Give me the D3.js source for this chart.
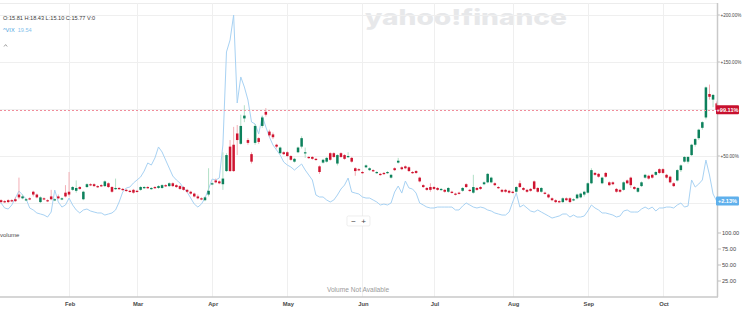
<!DOCTYPE html>
<html>
<head>
<meta charset="utf-8">
<script src="https://cdn.jsdelivr.net/npm/d3@7"></script>
<style>
html, body { margin: 0; padding: 0; background: #fff; }
svg { display: block; font-family: "Liberation Sans", Arial, sans-serif; }
</style>
</head>
<body>
<div id="chart"></div>
<script>
// percent change since first session, one entry per trading day (Jan 2 .. Oct 22)
var open = [1,3,2,3,3,4,9,5,3,5, 12,9,1,5,3,7,3,7,4,11, 12,14,13,17,4,17,20,20,18,19, 18,21,17,15,16,15,14,13,14,13,
  14,16,17,15,17,16,16,19,18,21, 19,18,17,14,12,10,7,5,3,9, 20,24,23,20,34,60,62,74,63,90, 67,52,64,69,82,97,76,73,62,53,
  54,54,50,44,54,60,53,49,49,47, 39,43,44,53,53,42,53,51,49,48, 37,36,33,38,35,35,32,31,32,32, 27,37,43,38,39,38,33,34,27,19,
  16,17,17,16,14,14,12,12,10,11, 13,20,14,11,16,17,20,22,22,21, 17,14,14,13,12,12,21,16,14,15, 23,16,12,11,9,5,3,2,1,5,
  5,3,5,6,9,11,21,32,31,21, 32,22,22,15,14,14,24,27,17,12, 18,27,29,30,30,36,36,30,28,21, 24,35,44,44,51,62,69,80,91,116, 110,106];
var close = [2,1,1,1,2,2,6,7,4,4, 9,6,6,4,2,4,4,5,5,7, 9,17,16,15,12,20,19,18,17,18, 23,17,12,16,15,14,13,12,11,12,
  17,17,16,16,16,18,19,18,21,18, 17,15,14,12,10,7,5,4,6,13, 21,22,21,26,51,34,34,67,82,93, 64,44,82,65,91,94,72,70,60,59,
  52,50,46,47,59,69,54,48,47,46, 33,46,48,46,49,51,49,47,50,44, 34,35,32,40,37,34,33,30,31,33, 30,35,45,36,37,34,32,32,23,17,
  14,14,15,14,15,12,16,11,9,10, 16,17,13,17,14,15,22,31,27,19, 16,12,12,11,11,17,17,14,12,13, 15,12,16,10,6,3,1,1,5,3,
  1,4,9,10,12,21,35,30,28,27, 28,19,20,12,12,22,21,19,15,16, 22,30,26,27,33,32,32,27,22,18, 35,40,49,49,62,68,78,86,123,113, 115,99.11];
var high = [3,4,3,4,4,6,27,9,5,6, 13,10,7,6,4,14,5,9,6,19, 33,18,24,18,13,21,21,21,19,20, 24,22,18,26,17,16,15,14,15,14,
  18,18,18,17,18,19,20,20,22,22, 20,19,18,15,13,11,9,6,7,37, 22,26,24,54,53,67,81,83,94,104, 69,54,84,70,93,101,78,75,63,60,
  55,55,51,48,60,71,59,50,50,48, 40,47,49,54,54,52,54,52,54,49, 38,37,34,41,38,36,34,32,33,34, 31,38,48,39,40,39,34,35,28,20,
  17,21,18,17,16,15,17,13,11,12, 17,21,15,30,17,18,23,32,28,22, 18,15,15,14,13,18,24,17,15,16, 24,17,17,12,10,6,4,3,6,6,
  6,5,10,11,13,22,37,33,32,28, 33,23,23,16,15,23,25,28,18,17, 23,31,30,31,34,37,37,31,29,22, 36,41,50,50,63,69,79,87,124,126, 116,108];
var low = [0,0,0,0,1,1,4,4,2,3, 7,5,0,3,1,3,2,4,3,6, 7,13,11,14,3,16,18,17,16,17, 17,16,11,14,14,13,12,11,10,11,
  13,15,15,14,15,15,15,17,17,17, 16,14,13,11,9,6,4,3,2,7, 19,21,20,14,33,33,33,51,62,86, 62,42,62,63,80,92,70,68,58,52,
  51,49,45,43,53,58,48,47,46,45, 31,42,43,45,48,40,48,46,48,43, 29,34,31,37,34,33,31,29,30,31, 26,34,42,35,36,33,31,31,22,16,
  13,12,14,13,13,11,11,10,8,9, 12,16,12,10,13,14,19,21,21,18, 15,11,11,10,10,11,16,13,11,12, 14,11,11,9,5,2,0,0,0,2,
  0,2,4,5,7,10,20,29,27,20, 27,18,19,11,11,13,20,16,14,11, 17,26,25,26,29,31,31,26,21,17, 23,33,43,42,50,60,67,78,89,110, 102,97];
// ^VIX comparison, percent change
var vix = [1.1,0,-5.3,-6.4,-2.1,5.3,12.8,8.5,4.3,-5.3, -7.4,-10.6,-11.7,-12.8,-14.9,-9.6,13.8,1.1,-4.3,-2.1,
  5.3,-2.1,-7.4,-10.6,-7.4,-6.4,-8.5,-9.6,-10.6,-10.6, -12.8,-11.7,-10.6,-7.4,1.1,11.7,16,17,21.3,24.5,
  27.7,34,42.6,40.4,47.9,59.6,54.3,45.7,37.2,28.7, 24.5,21.3,16,11.7,5.3,-1.1,-4.3,-1.1,5.3,14.9,
  25.5,24.5,26.6,61.7,160.7,173.4,200,106.4,134.1,123.4, 109.6,86.2,84.1,73.4,92.6,80.9,70.2,61.7,56.4,51.1,
  43.6,40.4,38.3,35.1,38.3,41.5,35.1,29.8,24.5,8.5, 6.4,6.4,3.2,1.1,3.2,8.5,14.9,19.1,26.6,11.7,
  10.6,9.6,6.4,5.3,5.3,3.2,1.1,-2.1,-1.1,-2.1, 0,11.7,18.1,10.6,23.4,16,14.9,10.6,0,-2.1,
  -4.3,-5.3,-5.3,-4.3,-4.3,-4.3,-4.3,-4.3,-7.4,-7.4, -3.2,0,-2.1,-4.3,-5.3,-4.3,-5.3,-7.4,-8.5,-10.6,
  -11.7,-12.8,-12.8,-9.6,1.1,10.6,-4.3,-2.1,-5.3,-8.5, -9.6,-7.4,-9.6,-11.7,-13.8,-16,-14.9,-13.8,-11.7,-11.7,
  -14.9,-12.8,-14.9,-14.9,-13.8,-8.5,-2.1,-5.3,-7.4,-10.6, -10.6,-11.7,-12.8,-14.9,-13.8,-8.5,-7.4,-9.6,-9.6,-9.6,
  -6.4,-4.3,-6.4,-4.3,-8.5,-5.3,-5.3,-4.3,-4.3,-5.3, -2.1,0,-4.3,-3.2,24.5,17,20.2,24.5,45.7,29.8, 9.6,2.13];

var months = ["Feb","Mar","Apr","May","Jun","Jul","Aug","Sep","Oct"];
var monthStart = [20,39,60,81,102,122,144,165,186];
var pctTicks = [0,50,100,150,200];
var volTicks = [25,50,75,100];
var headerOHLC = "O:15.81 H:18.43 L:15.10 C:15.77 V:0";
var vixName = "^VIX", vixLast = "19.54";

var W = 742, H = 309, plotRight = 717, plotTop = 3, priceBottom = 222, axisY = 297;
var green = "#0d815c", red = "#cf1430", greenWick = "#a9dcc1", redWick = "#f2a6ae";

var x = d3.scaleLinear().domain([0.7, 201.1]).range([0, plotRight]);
var y = d3.scaleLinear().domain([-20.2, 212.8]).range([priceBottom, plotTop]);
var yVol = d3.scaleLinear().domain([0, 100]).range([axisY, 233]);

var svg = d3.select("#chart").append("svg").attr("width", W).attr("height", H);

svg.append("defs").append("clipPath").attr("id", "plotClip")
  .append("rect").attr("x", 0).attr("y", plotTop).attr("width", plotRight).attr("height", priceBottom - plotTop);

//Watermark
svg.append("text")
  .attr("x", 466).attr("y", 25)
  .attr("text-anchor", "middle")
  .attr("font-family", "Inter, 'Open Sans', sans-serif")
  .attr("font-size", "21px").attr("font-weight", 800)
  .attr("textLength", 202).attr("lengthAdjust", "spacingAndGlyphs")
  .attr("fill", "#e7e8ea")
  .text("yahoo!finance");

//Grid
svg.append("line").attr("x1", 0).attr("x2", plotRight).attr("y1", plotTop + 0.5).attr("y2", plotTop + 0.5)
  .style("stroke", "#ececec");
svg.selectAll(".hgrid").data(pctTicks).enter().append("line")
  .attr("class", "hgrid")
  .attr("x1", 0).attr("x2", plotRight)
  .attr("y1", function(d){ return Math.round(y(d)) + 0.5; })
  .attr("y2", function(d){ return Math.round(y(d)) + 0.5; })
  .style("stroke", "#efefef");
svg.selectAll(".vgrid").data(monthStart).enter().append("line")
  .attr("class", "vgrid")
  .attr("x1", function(d){ return Math.round(x(d)) + 0.5; })
  .attr("x2", function(d){ return Math.round(x(d)) + 0.5; })
  .attr("y1", plotTop).attr("y2", axisY)
  .style("stroke", "#efefef");

var plot = svg.append("g").attr("clip-path", "url(#plotClip)");

//VIX comparison line
plot.append("path")
  .datum(vix)
  .attr("d", d3.line().x(function(d, i){ return x(i); }).y(function(d){ return y(d); }))
  .style("fill", "none")
  .style("stroke", "#a8d2f3")
  .style("stroke-width", "1px");

//Candles
var idx = d3.range(close.length);
plot.selectAll(".wick").data(idx).enter().append("line")
  .attr("class", "wick")
  .attr("x1", function(i){ return x(i); }).attr("x2", function(i){ return x(i); })
  .attr("y1", function(i){ return y(high[i]); }).attr("y2", function(i){ return y(low[i]); })
  .style("stroke", function(i){ return close[i] >= open[i] ? greenWick : redWick; })
  .style("stroke-width", "0.9px");
plot.selectAll(".body").data(idx).enter().append("rect")
  .attr("class", "body")
  .attr("x", function(i){ return x(i) - 1.25; })
  .attr("width", 2.5)
  .attr("y", function(i){ return y(Math.max(open[i], close[i])); })
  .attr("height", function(i){ return Math.max(1.2, Math.abs(y(open[i]) - y(close[i]))); })
  .style("fill", function(i){ return close[i] >= open[i] ? green : red; });

var lastClose = close[close.length - 1], lastVix = vix[vix.length - 1];

//Last price dashed line
svg.append("line")
  .attr("x1", 0).attr("x2", plotRight)
  .attr("y1", Math.round(y(lastClose)) + 0.5).attr("y2", Math.round(y(lastClose)) + 0.5)
  .style("stroke", "#f08d9b").style("stroke-dasharray", "2,2");

//Axis lines
svg.append("line").attr("x1", 0).attr("x2", plotRight + 1).attr("y1", axisY).attr("y2", axisY)
  .style("stroke", "#c9c9c9").style("stroke-width", "1.5px");
svg.append("line").attr("x1", plotRight + 0.5).attr("x2", plotRight + 0.5).attr("y1", plotTop).attr("y2", axisY)
  .style("stroke", "#c9c9c9").style("stroke-width", "1.5px");

//Right axis, percent
var pctFmt = d3.format("+.2f");
var shown = pctTicks.filter(function(t){
  return Math.abs(y(t) - y(lastClose)) > 8 && Math.abs(y(t) - y(lastVix)) > 8;
});
var pAxis = svg.selectAll(".pct").data(shown).enter().append("g").attr("class", "pct");
pAxis.append("line")
  .attr("x1", plotRight + 1).attr("x2", plotRight + 3)
  .attr("y1", function(d){ return y(d); }).attr("y2", function(d){ return y(d); })
  .style("stroke", "#999").style("stroke-width", "0.6px");
pAxis.append("text")
  .attr("x", plotRight + 3.5).attr("y", function(d){ return y(d) + 1.7; })
  .attr("font-size", "4.6px").attr("fill", "#464646")
  .text(function(d){ return pctFmt(d) + "%"; });

//Right axis, volume
var vAxis = svg.selectAll(".vol").data(volTicks).enter().append("g").attr("class", "vol");
vAxis.append("line")
  .attr("x1", plotRight + 1).attr("x2", plotRight + 4)
  .attr("y1", function(d){ return yVol(d); }).attr("y2", function(d){ return yVol(d); })
  .style("stroke", "#999").style("stroke-width", "0.6px");
vAxis.append("text")
  .attr("x", plotRight + 5).attr("y", function(d){ return yVol(d) + 2; })
  .attr("font-size", "5.6px").attr("fill", "#464646")
  .text(function(d){ return d3.format(".2f")(d); });

//Price tags
function tag(val, fill, txt){
  var cy = y(val);
  svg.append("rect").attr("x", plotRight - 1).attr("y", cy - 4.5)
    .attr("width", 23).attr("height", 9).attr("rx", 1)
    .style("fill", fill);
  svg.append("text").attr("x", plotRight + 10.5).attr("y", cy + 2)
    .attr("text-anchor", "middle")
    .attr("font-size", "5.6px").attr("font-weight", "bold").attr("fill", "#fff")
    .text(txt);
}
tag(lastClose, "#c8102e", pctFmt(lastClose) + "%");
tag(lastVix, "#5fb0ec", pctFmt(lastVix) + "%");

//Month labels
svg.selectAll(".month").data(months).enter().append("text")
  .attr("class", "month")
  .attr("x", function(d, i){ return x(monthStart[i]) + 1; })
  .attr("y", 305.5)
  .attr("text-anchor", "middle")
  .attr("font-size", "5.8px").attr("font-weight", "bold").attr("fill", "#4a4a4a")
  .text(function(d){ return d; });

//Header and panel texts
svg.append("text").attr("x", 3).attr("y", 19.5)
  .attr("font-size", "5.6px").attr("fill", "#3b3b3b").text(headerOHLC);
var vt = svg.append("text").attr("x", 3).attr("y", 31.5).attr("font-size", "5.6px");
vt.append("tspan").attr("fill", "#4a9fe0").text(vixName);
vt.append("tspan").attr("fill", "#86bfec").attr("dx", 3).text(vixLast);
svg.append("path").attr("d", "M4,46.5 L5.6,44.6 L7.2,46.5")
  .style("fill", "none").style("stroke", "#777").style("stroke-width", "0.7px");

svg.append("text").attr("x", 0).attr("y", 237)
  .attr("font-size", "6px").attr("fill", "#4a4a4a").text("volume");
svg.append("text").attr("x", 358).attr("y", 292)
  .attr("text-anchor", "middle")
  .attr("font-size", "6.6px").attr("fill", "#9a9a9a").text("Volume Not Available");

//Zoom control
var zc = svg.append("g").attr("transform", "translate(347,216)");
zc.append("rect").attr("width", 23).attr("height", 10).attr("rx", 1.5)
  .style("fill", "#fff").style("stroke", "#e2e2e2").style("stroke-width", "0.6px");
zc.append("text").attr("x", 6.5).attr("y", 7.6).attr("text-anchor", "middle")
  .attr("font-size", "8px").attr("fill", "#444").text("\u2212");
zc.append("text").attr("x", 16.5).attr("y", 7.6).attr("text-anchor", "middle")
  .attr("font-size", "8px").attr("fill", "#444").text("+");
</script>
</body>
</html>
